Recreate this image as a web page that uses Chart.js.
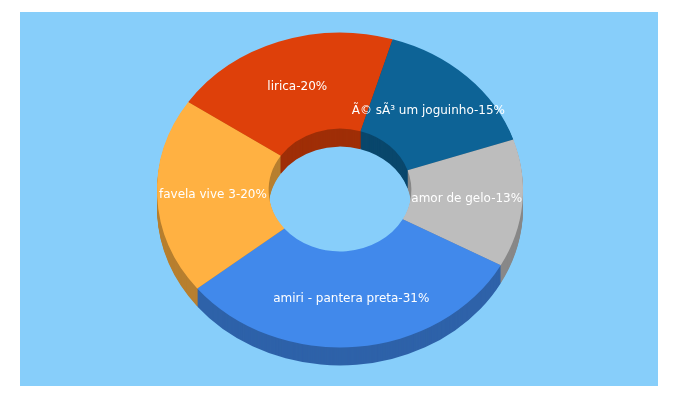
<!DOCTYPE html>
<html><head>
<script src="https://cdn.jsdelivr.net/npm/chart.js@4"></script>
<style>
html,body{margin:0;padding:0;background:#fff;}
#bg{position:absolute;left:20px;top:12px;width:638px;height:374px;background:#87CEFA;}
#wrap{position:absolute;left:0;top:0;width:680px;height:400px;}
</style></head><body>
<div id="bg"></div>
<div id="wrap"><canvas id="c" width="680" height="400"></canvas></div>
<script>
const categories = ["lirica","é só um joguinho","amor de gelo","amiri - pantera preta","favela vive 3"];
const values = [20,15,13,31,20];
const labelsPct = ["20%","15%","13%","31%","20%"];
const colors = ["#DE400A","#0D6396","#BDBDBD","#4189EB","#FFB142"];
const SY = 0.86, DEPTH = 18;
function shade(hex,f){const n=parseInt(hex.slice(1),16);const r=(n>>16)*f,g=((n>>8)&255)*f,b=(n&255)*f;return `rgb(${r|0},${g|0},${b|0})`;}
const plugin3d = {
  id:'p3d',
  beforeDatasetsDraw(chart){
    const ctx=chart.ctx, meta=chart.getDatasetMeta(0);
    const cy=meta.data[0].y;
    ctx.save();
    ctx.translate(0,cy);ctx.scale(1,SY);ctx.translate(0,-cy);
    for(let d=DEPTH; d>0; d--){
      meta.data.forEach((a,i)=>{
        ctx.beginPath();
        ctx.arc(a.x,a.y+d/SY,a.outerRadius,a.startAngle,a.endAngle);
        ctx.arc(a.x,a.y+d/SY,a.innerRadius,a.endAngle,a.startAngle,true);
        ctx.closePath();
        ctx.fillStyle=shade(colors[i],0.72);
        ctx.fill();
      });
    }
    // keep transform for the dataset draw
  },
  afterDatasetsDraw(chart){
    const ctx=chart.ctx, meta=chart.getDatasetMeta(0);
    ctx.restore();
    const cy=meta.data[0].y;
    ctx.save();
    ctx.font='12px "DejaVu Sans"';
    ctx.fillStyle='#fff';ctx.textAlign='center';ctx.textBaseline='middle';
    meta.data.forEach((a,i)=>{
      const mid=(a.startAngle+a.endAngle)/2, r=(a.outerRadius+a.innerRadius)/2;
      const x=a.x+Math.cos(mid)*r, y=cy+Math.sin(mid)*r*SY;
      ctx.fillText(categories[i]+'-'+labelsPct[i],x,y);
    });
    ctx.restore();
  }
};
new Chart(document.getElementById('c'),{
  type:'doughnut',
  data:{labels:categories,datasets:[{data:values,backgroundColor:colors,borderWidth:0}]},
  options:{responsive:false,animation:false,rotation:-56,cutout:'39%',
    layout:{padding:{left:157,right:157,top:7,bottom:27}},
    plugins:{legend:{display:false},tooltip:{enabled:false}}},
  plugins:[plugin3d]
});
</script>
</body></html>
